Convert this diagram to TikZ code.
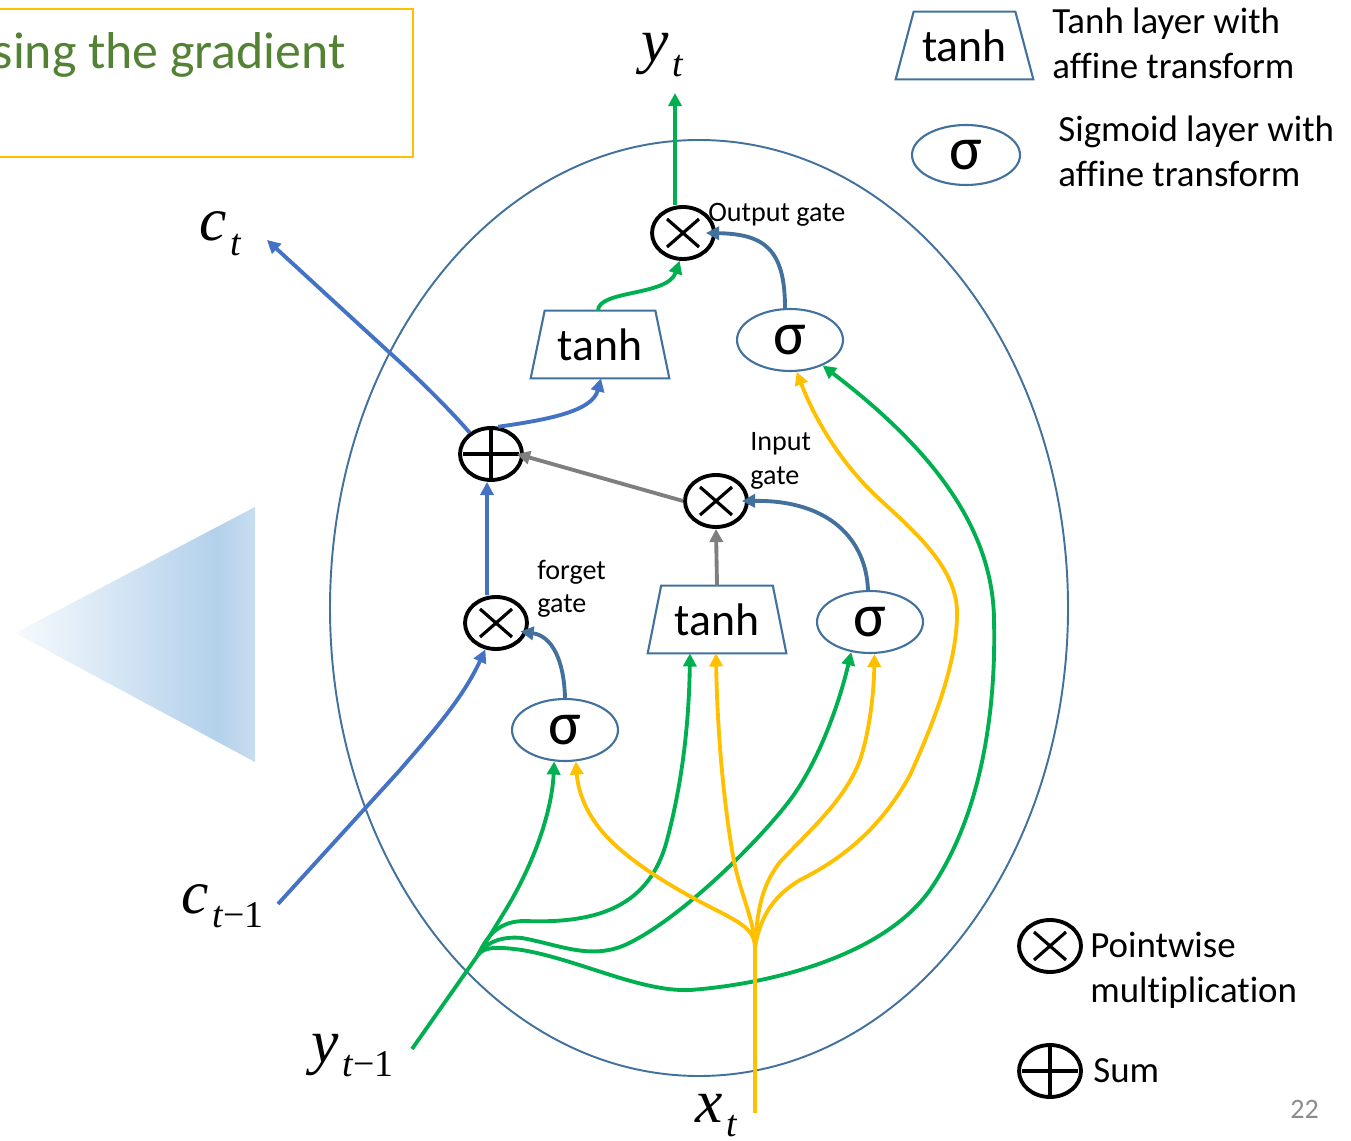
\documentclass[tikz,border=0pt]{standalone}
\usepackage{fontspec}
\setmainfont{Carlito}[Ligatures=NoCommon]
\newfontfamily\tnr{Liberation Serif}
\usetikzlibrary{arrows.meta,shapes.geometric,calc}
\definecolor{sgb}{HTML}{41719C}
\definecolor{cblue}{HTML}{4472C4}
\definecolor{lgreen}{HTML}{00B050}
\definecolor{lyellow}{HTML}{FFC000}
\definecolor{lgray}{HTML}{7F7F7F}
\definecolor{tgreen}{HTML}{548235}
\definecolor{triA}{HTML}{F7FAFD}
\definecolor{triB}{HTML}{B3D1EB}
\definecolor{triC}{HTML}{C8DDF0}
\pgfdeclarehorizontalshading{trishade}{100bp}{color(0bp)=(triA); color(25bp)=(triA); color(67bp)=(triB); color(75bp)=(triC); color(100bp)=(triC)}
\newcommand\mlab[2]{{\fontsize{35}{35}\tnr\itshape #1}\kern2pt{\fontsize{21.5}{21.5}\tnr\raisebox{-8pt}{#2}}}
\newcommand\mytrap[2]{\draw[shapeline] (#1.south west) -- (#1.south east) -- ([xshift=-#2]#1.north east) -- ([xshift=#2]#1.north west) -- cycle;}
\newcommand\myX[1]{\draw[xline] ($(#1.center)+(-16,-14)$) -- ($(#1.center)+(16,14)$) ($(#1.center)+(-16,14)$) -- ($(#1.center)+(16,-14)$);}
\newcommand\myPlus[1]{\draw[xline] ($(#1.center)+(-28,0)$) -- ($(#1.center)+(28,0)$) ($(#1.center)+(0,-24)$) -- ($(#1.center)+(0,24)$);}
\tikzset{
  shapeline/.style={draw=sgb, line width=1.2pt},
  sig/.style={ellipse, draw=sgb, line width=1.2pt, minimum width=2.12cm, minimum height=1.24cm, inner sep=0pt, font=\fontsize{35}{35}\selectfont},
  opn/.style={ellipse, draw=black, line width=2.2pt, minimum width=1.24cm, minimum height=1.04cm, inner sep=0pt},
  xline/.style={draw=black, line width=1.8pt},
  tbox/.style={rectangle, draw=none, minimum width=2.76cm, minimum height=1.34cm, inner sep=0pt, font=\fontsize{26}{26}\selectfont},
  tip/.style={-{Triangle[length=7.5pt,width=7.5pt]}},
  garr/.style={tip, draw=lgreen, line width=2.2pt},
  gline/.style={draw=lgreen, line width=2.2pt},
  yarr/.style={tip, draw=lyellow, line width=2.2pt},
  yline/.style={draw=lyellow, line width=2.2pt},
  barr/.style={tip, draw=sgb, line width=2.2pt},
  carr/.style={tip, draw=cblue, line width=2.2pt},
  gyarr/.style={tip, draw=lgray, line width=2.2pt},
  small/.style={font=\fontsize{16}{19}\selectfont, inner sep=0pt, align=left},
  legend/.style={font=\fontsize{21}{25.5}\selectfont, inner sep=0pt, align=left},
  mathlab/.style={inner sep=0pt, anchor=base west},
}
\begin{document}
\begin{tikzpicture}[x=0.02cm,y=-0.02cm]
\useasboundingbox (0,0) rectangle (1351,1141);
% background shapes
\draw[sgb, line width=1.1pt] (699,608) ellipse [x radius=369, y radius=468];
\shade[shading=trishade] (15,633) -- (255,507) -- (255,762) -- cycle;
\draw[lyellow, line width=1.2pt] (-10,9) rectangle (413,157);
\node[font=\fontsize{29.5}{29.5}\selectfont, text=tgreen, inner sep=0pt, anchor=base east] (title) at (346,69) {sing the gradient};

% main nodes
\node[opn] (oO) at (683,233) {};
\node[tbox] (tT) at (600,344.5) {\raisebox{-1.5pt}{tanh}};
\node[sig] (sT) at (790,340) {\raisebox{-6pt}{σ}};
\node[opn] (oP) at (491,454) {};
\node[opn] (oI) at (716,501) {};
\node[opn] (oF) at (496,623) {};
\node[tbox] (tM) at (717,619.5) {\raisebox{-1.5pt}{tanh}};
\node[sig] (sM) at (870,622) {\raisebox{-6pt}{σ}};
\node[sig] (sL) at (565,730) {\raisebox{-6pt}{σ}};
\mytrap{tT}{0.28cm}
\mytrap{tM}{0.27cm}
\myX{oO}
\myPlus{oP}
\myX{oI}
\myX{oF}

% gate labels
\node[small, anchor=base west] (lout) at (708,222) {Output gate};
\node[small, anchor=west] (lin) at (750,461) {Input\\gate};
\node[small, anchor=west] (lfg) at (537,589) {forget\\gate};

% math labels
\node[mathlab] (lyt) at (641,62) {\mlab{y}{\textit{t}}};
\node[mathlab] (lct) at (199,241) {\mlab{c}{\textit{t}}};
\node[mathlab] (lctm) at (181,913) {\mlab{c}{\textit{t}−1}};
\node[mathlab] (lytm) at (311,1062) {\mlab{y}{\textit{t}−1}};
\node[mathlab] (lxt) at (695,1122) {\mlab{x}{\textit{t}}};

% free ends
\coordinate (ytTip) at (675,93);
\coordinate (ctTip) at (267,240);
\coordinate (cStart) at (278,904);
\coordinate (ys) at (412,1049);
\coordinate (ybr) at (478,955);
\coordinate (xs) at (755,1113);
\coordinate (xbr) at (755,948);

% connectors
\draw[garr] (oO.north -| ytTip) -- (ytTip);
\draw[garr] ([xshift=-0.04cm]tT.north) .. controls (598,290) and (668,296) .. (oO.-97);
\draw[barr] ([xshift=-0.1cm]sT.north) .. controls (785,250) and (765,234) .. ([xshift=-0.2cm]oO.east);
\draw[carr] (oP.75) .. controls (545,420) and (592,412) .. ([xshift=0.02cm]tT.south);
\draw[carr] (oP.135) .. controls (450,410) and (420,380) .. (390,353) -- (ctTip);
\draw[carr] ([xshift=-0.18cm]oF.north) -- ([xshift=-0.08cm]oP.south);
\draw[gyarr] (oI.west) -- ([xshift=-0.14cm]oP.east);
\draw[gyarr] (tM.north) -- (oI.south);
\draw[barr] ([xshift=-0.04cm]sM.north) .. controls (866,540) and (830,500) .. ([xshift=-0.14cm]oI.east);
\draw[barr] (sL.north) .. controls (564,660) and (552,636) .. ($(oF.-15)+(-7,0)$);
\draw[carr] (cStart) -- (400,770) .. controls (430,735) and (462,700) .. (oF.-112);

% y_{t-1} inputs
\draw[gline] (ys) -- (ybr);
\draw[garr] (ybr) -- (505,911) .. controls (535,862) and (552,810) .. (sL.-109);
\draw[garr] (ybr) .. controls (488,934) and (500,921) .. (525,921) .. controls (600,924) and (650,905) .. (667,840) .. controls (683,780) and (689,720) .. ([xshift=-0.54cm]tM.south);
\draw[garr] (ybr) .. controls (486,942) and (502,936) .. (522,938) .. controls (560,945) and (590,960) .. (625,945) .. controls (680,920) and (760,840) .. (790,800) .. controls (820,760) and (840,700) .. (sM.-122);
\draw[garr] (ybr) .. controls (484,946) and (500,947) .. (522,950) .. controls (580,960) and (640,992) .. (690,990) .. controls (760,985) and (880,960) .. (930,890) .. controls (985,810) and (996,700) .. (994,620) .. controls (993,520) and (920,440) .. (sT.-38);

% x_t inputs
\draw[yline] (xs) -- (xbr);
\draw[yarr] (xbr) .. controls (755,932) and (745,925) .. (720,912) .. controls (690,897) and (640,870) .. (610,840) .. controls (585,815) and (578,790) .. (sL.-71);
\draw[yarr] (xbr) .. controls (755,920) and (738,890) .. (732,850) .. controls (722,790) and (717,720) .. ([xshift=-0.02cm]tM.south);
\draw[yarr] (xbr) .. controls (757,910) and (762,885) .. (780,862) .. controls (810,830) and (845,800) .. (860,760) .. controls (870,730) and (874,690) .. (sM.-82);
\draw[yarr] (xbr) .. controls (760,915) and (775,895) .. (800,880) .. controls (840,860) and (880,830) .. (910,775) .. controls (935,720) and (958,660) .. (957,610) .. controls (955,560) and (900,520) .. (870,490) .. controls (840,460) and (815,420) .. (sT.-78);

% legend
\node[tbox, minimum width=2.74cm] (gT) at (964.5,45.5) {\raisebox{-4.5pt}{tanh}};
\mytrap{gT}{0.36cm}
\node[legend, anchor=west] (gTt) at (1052,43) {Tanh layer with\\affine transform};
\node[sig, minimum width=2.16cm, minimum height=1.2cm] (gS) at (966,155) {\raisebox{-6pt}{σ}};
\node[legend, anchor=west] (gSt) at (1058,151) {Sigmoid layer with\\affine transform};
\node[opn] (gX) at (1050,946) {};
\myX{gX}
\node[legend, anchor=west] (gXt) at (1090,970) {Pointwise\\multiplication};
\node[opn] (gP) at (1050,1071) {};
\myPlus{gP}
\node[legend, anchor=base west] (gPt) at (1093,1082) {Sum};
\node[font=\fontsize{16}{16}\selectfont, text=lgray!90!white, inner sep=0pt, anchor=base west] (pg) at (1290,1118) {22};
\end{tikzpicture}
\end{document}
